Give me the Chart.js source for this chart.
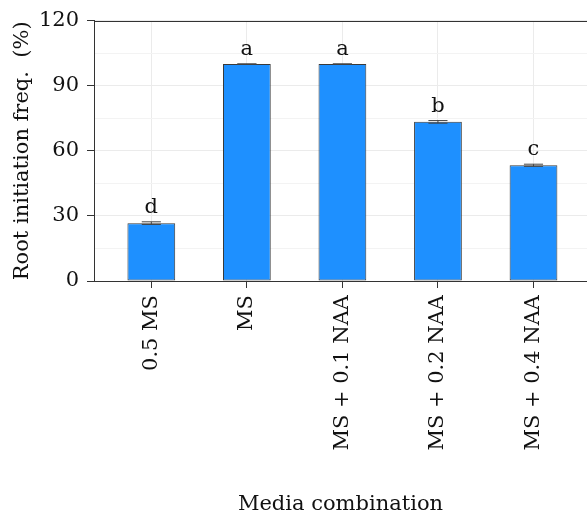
<!DOCTYPE html>
<html>
<head>
<meta charset="utf-8">
<script src="https://cdn.jsdelivr.net/npm/chart.js@4"></script>
<style>
html,body{margin:0;padding:0;background:#fff;}
canvas{display:block;}
</style>
</head>
<body>
<canvas id="c" width="587" height="518"></canvas>
<script>
const categories = ['0.5 MS', 'MS', 'MS + 0.1 NAA', 'MS + 0.2 NAA', 'MS + 0.4 NAA'];
const rootFreq = [26.67, 100, 100, 73.33, 53.33];
const stdErr = [0.6, 0, 0, 0.6, 0.5];
const letters = ['d', 'a', 'a', 'b', 'c'];
const yTicks = [0, 30, 60, 90, 120];
const xTitle = 'Media combination';
const yTitle = 'Root initiation freq.  (%)';

const FONT = 'DejaVu Serif';
const FS = 21;

const extras = {
  id: 'extras',
  afterDatasetsDraw(chart) {
    const ctx = chart.ctx;
    const xs = chart.scales.x, ys = chart.scales.y;
    const ca = chart.chartArea;
    ctx.save();
    ctx.strokeStyle = '#444';
    ctx.lineWidth = 1;
    rootFreq.forEach((v, i) => {
      const x = xs.getPixelForValue(i + 1);
      const half = xs.getPixelForValue(i + 1.1) - x;
      const yt = ys.getPixelForValue(v + stdErr[i]);
      const yb = ys.getPixelForValue(v - stdErr[i]);
      ctx.beginPath();
      ctx.moveTo(x, yt); ctx.lineTo(x, yb);
      ctx.moveTo(x - half, yt); ctx.lineTo(x + half, yt);
      ctx.moveTo(x - half, yb); ctx.lineTo(x + half, yb);
      ctx.stroke();
      ctx.fillStyle = '#111';
      ctx.font = FS + 'px "' + FONT + '"';
      ctx.textAlign = 'center';
      ctx.textBaseline = 'alphabetic';
      ctx.fillText(letters[i], x, yt - 9);
    });
    ctx.strokeStyle = '#333';
    ctx.lineWidth = 1;
    ctx.beginPath();
    ctx.moveTo(ca.left, Math.round(ca.top) + 0.5);
    ctx.lineTo(ca.right, Math.round(ca.top) + 0.5);
    ctx.stroke();
    ctx.restore();
  }
};

new Chart(document.getElementById('c'), {
  type: 'bar',
  data: {
    datasets: [{
      data: categories.map((c, i) => ({ x: i + 1, y: rootFreq[i] })),
      backgroundColor: '#1E90FF',
      borderColor: '#3a3a3a',
      borderWidth: 1,
      borderSkipped: false,
      categoryPercentage: 1,
      barPercentage: 0.5
    }]
  },
  options: {
    responsive: false,
    animation: false,
    devicePixelRatio: 1,
    layout: { padding: { top: 19, right: 0, bottom: 0, left: 0 } },
    plugins: { legend: { display: false }, tooltip: { enabled: false } },
    scales: {
      x: {
        type: 'linear',
        offset: false,
        min: 0.4,
        max: 5.56,
        afterBuildTicks: s => { s.ticks = categories.map((c, i) => ({ value: i + 1 })); },
        afterFit: s => { s.height = 237; },
        grid: { offset: false, color: '#ebebeb', tickColor: '#333', tickLength: 7, lineWidth: 1 },
        border: { display: true, color: '#333', width: 1 },
        ticks: {
          autoSkip: false,
          minRotation: 90, maxRotation: 90,
          padding: 7,
          color: '#111',
          font: { family: FONT, size: FS },
          callback: v => categories[Math.round(v) - 1]
        },
        title: {
          display: true, text: xTitle, color: '#111',
          font: { family: FONT, size: FS },
          padding: { top: 0, bottom: 1 }
        }
      },
      y: {
        min: 0, max: 120,
        afterBuildTicks: s => {
          const t = [];
          for (let k = 0; k < yTicks.length; k++) {
            t.push({ value: yTicks[k] });
            if (k < yTicks.length - 1) t.push({ value: (yTicks[k] + yTicks[k + 1]) / 2 });
          }
          s.ticks = t;
        },
        afterFit: s => { s.width = 94; },
        grid: {
          color: c => (yTicks.includes(c.tick && c.tick.value) ? '#ebebeb' : '#f3f3f3'),
          tickColor: c => (yTicks.includes(c.tick && c.tick.value) ? '#333' : 'rgba(0,0,0,0)'),
          tickLength: 7,
          lineWidth: 1
        },
        border: { display: true, color: '#333', width: 1 },
        ticks: {
          autoSkip: false,
          padding: 8,
          color: '#111',
          font: { family: FONT, size: FS },
          callback: v => (yTicks.includes(v) ? String(v) : '')
        },
        title: {
          display: true, text: yTitle, color: '#111',
          font: { family: FONT, size: FS },
          padding: { top: 10, bottom: 0 }
        }
      }
    }
  },
  plugins: [extras]
});
</script>
</body>
</html>
